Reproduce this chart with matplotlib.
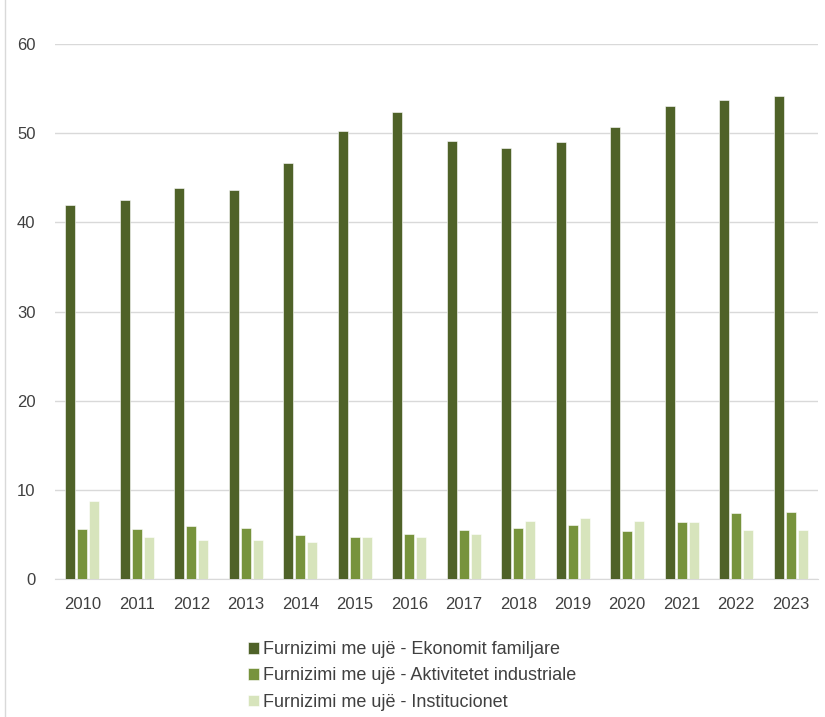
import numpy as np
import matplotlib.pyplot as plt
from matplotlib.patches import Rectangle

years = ['2010', '2011', '2012', '2013', '2014', '2015', '2016',
         '2017', '2018', '2019', '2020', '2021', '2022', '2023']
ekonomi = [41.9, 42.5, 43.8, 43.6, 46.6, 50.3, 52.4,
           49.1, 48.3, 49.0, 50.7, 53.1, 53.7, 54.2]
industri = [5.6, 5.6, 5.9, 5.7, 4.9, 4.7, 5.0,
            5.5, 5.7, 6.05, 5.35, 6.35, 7.35, 7.5]
instit = [8.7, 4.7, 4.4, 4.4, 4.2, 4.7, 4.7,
          5.0, 6.5, 6.8, 6.5, 6.35, 5.5, 5.5]

labels = ['Furnizimi me ujë - Ekonomit familjare',
          'Furnizimi me ujë - Aktivitetet industriale',
          'Furnizimi me ujë - Institucionet']
colors = ['#4F6228', '#77933C', '#D7E4BC']

plt.rcParams['font.family'] = ['Liberation Sans', 'DejaVu Sans']

fig = plt.figure(figsize=(8.25, 7.17), dpi=100)
ax = fig.add_axes([0.0667, 0.1925, 0.9248, 0.7461])

x = np.arange(len(years))
w = 0.18
off = 0.22
for i, (vals, lab, c) in enumerate(zip([ekonomi, industri, instit], labels, colors)):
    ax.bar(x + (i - 1) * off, vals, width=w, color=c, label=lab,
           edgecolor='white', linewidth=0.4, zorder=3)

ax.set_xlim(-0.5, 13.5)
ax.set_ylim(0, 60)
ax.set_yticks(range(0, 61, 10))
ax.set_xticks(x)
ax.set_xticklabels(years)
ax.yaxis.grid(True, color='#D9D9D9', linewidth=1, zorder=0)
for s in ['top', 'right', 'left']:
    ax.spines[s].set_visible(False)
ax.spines['bottom'].set_color('#D9D9D9')
ax.tick_params(axis='both', length=0, labelsize=12, colors='#404040')
ax.tick_params(axis='x', pad=13)
ax.tick_params(axis='y', pad=14)

fig.legend(loc='upper left', bbox_to_anchor=(0.292, 0.116), frameon=False,
           fontsize=13, handlelength=0.62, handleheight=0.62, handletextpad=0.2,
           labelspacing=0.52, labelcolor='#404040', borderaxespad=0)

fig.patches.append(Rectangle((0.006, -0.01), 1.2, 1.2, transform=fig.transFigure,
                             fill=False, edgecolor='#D9D9D9', linewidth=1))

fig.savefig('out.png', dpi=100)
